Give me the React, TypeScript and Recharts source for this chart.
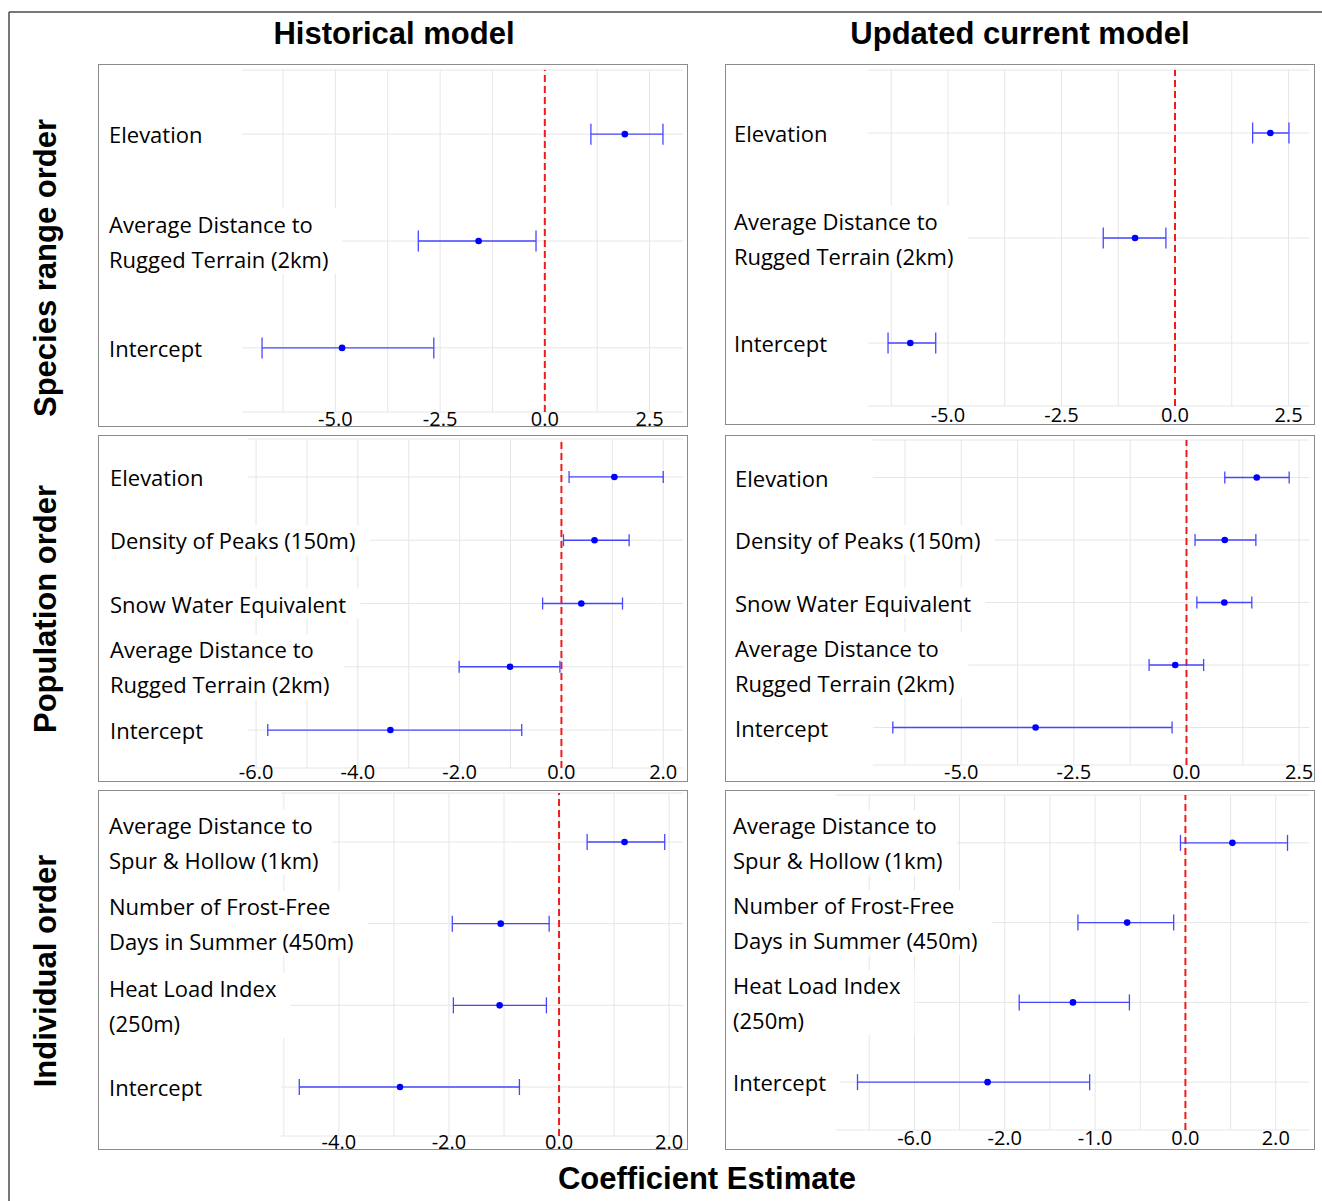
import React from 'react';
import { ScatterChart, Scatter, XAxis, YAxis, CartesianGrid, ErrorBar, ReferenceLine } from 'recharts';

// ---------- Data ----------
// Panel A: Historical model / Species range order
const aTerms = ['Elevation', 'Average Distance to\nRugged Terrain (2km)', 'Intercept'];
const aEst = [1.91, -1.58, -4.84];
const aLow = [1.10, -3.02, -6.75];
const aHigh = [2.82, -0.21, -2.65];
const aTicks = [-5, -2.5, 0, 2.5];
const aTickLabels = ['-5.0', '-2.5', '0.0', '2.5'];
const aMinor = [-6.25, -3.75, -1.25, 1.25];

// Panel B: Updated current model / Species range order
const bTerms = ['Elevation', 'Average Distance to\nRugged Terrain (2km)', 'Intercept'];
const bEst = [2.10, -0.88, -5.83];
const bLow = [1.71, -1.58, -6.32];
const bHigh = [2.51, -0.20, -5.27];
const bTicks = [-5, -2.5, 0, 2.5];
const bTickLabels = ['-5.0', '-2.5', '0.0', '2.5'];
const bMinor = [-6.25, -3.75, -1.25, 1.25];

// Panel C: Historical model / Population order
const cTerms = ['Elevation', 'Density of Peaks (150m)', 'Snow Water Equivalent', 'Average Distance to\nRugged Terrain (2km)', 'Intercept'];
const cEst = [1.04, 0.65, 0.39, -1.01, -3.36];
const cLow = [0.15, 0.04, -0.37, -2.01, -5.77];
const cHigh = [2.00, 1.33, 1.20, -0.03, -0.78];
const cTicks = [-6, -4, -2, 0, 2];
const cTickLabels = ['-6.0', '-4.0', '-2.0', '0.0', '2.0'];
const cMinor = [-5, -3, -1, 1];

// Panel D: Updated current model / Population order
const dTerms = ['Elevation', 'Density of Peaks (150m)', 'Snow Water Equivalent', 'Average Distance to\nRugged Terrain (2km)', 'Intercept'];
const dEst = [1.56, 0.85, 0.84, -0.25, -3.35];
const dLow = [0.85, 0.19, 0.23, -0.83, -6.52];
const dHigh = [2.28, 1.54, 1.45, 0.38, -0.32];
const dTicks = [-5, -2.5, 0, 2.5];
const dTickLabels = ['-5.0', '-2.5', '0.0', '2.5'];
const dMinor = [-6.25, -3.75, -1.25, 1.25];

// Panel E: Historical model / Individual order
const eTerms = ['Average Distance to\nSpur & Hollow (1km)', 'Number of Frost-Free\nDays in Summer (450m)', 'Heat Load Index\n(250m)', 'Intercept'];
const eEst = [1.19, -1.06, -1.08, -2.89];
const eLow = [0.51, -1.94, -1.92, -4.72];
const eHigh = [1.92, -0.18, -0.23, -0.72];
const eTicks = [-4, -2, 0, 2];
const eTickLabels = ['-4.0', '-2.0', '0.0', '2.0'];
const eMinor = [-5, -3, -1, 1];

// Panel F: Updated current model / Individual order
const fTerms = ['Average Distance to\nSpur & Hollow (1km)', 'Number of Frost-Free\nDays in Summer (450m)', 'Heat Load Index\n(250m)', 'Intercept'];
const fEst = [1.04, -1.29, -2.49, -4.38];
const fLow = [-0.11, -2.38, -3.68, -7.26];
const fHigh = [2.26, -0.26, -1.24, -2.12];
const fTicks = [-6, -4, -2, 0, 2];
const fTickLabels = ['-6.0', '-2.0', '-1.0', '0.0', '2.0'];
const fMinor = [-7, -5, -3, -1, 1];

const colTitles = ['Historical model', 'Updated current model'];
const rowTitles = ['Species range order', 'Population order', 'Individual order'];
const xTitle = 'Coefficient Estimate';

// ---------- Styling / layout ----------
const LABEL_FONT = "'Open Sans', sans-serif";
const TITLE_FONT = "'Liberation Sans', Arial, sans-serif";
const LABEL_SIZE = 22;
const TICK_SIZE = 20;
const LINE_GAP = 35;
const EXTRA = 14; // svg extends below the panel frame so tick text is not clipped

let measureCtx: CanvasRenderingContext2D | null = null;
function textWidth(s: string, size: number) {
  if (!measureCtx && typeof document !== 'undefined') {
    measureCtx = document.createElement('canvas').getContext('2d');
  }
  if (!measureCtx) return s.length * size * 0.52;
  measureCtx.font = `${size}px 'Open Sans'`;
  return measureCtx.measureText(s).width;
}

type Layout = {
  left: number; top: number; width: number; height: number;
  plotLeft: number; plotRight: number; plotTop: number; plotBottom: number;
  cap: number; labelX: number; tickBase: number;
};

type PanelData = {
  terms: string[]; est: number[]; low: number[]; high: number[];
  ticks: number[]; tickLabels: string[]; minor: number[];
};

const panels: { data: PanelData; layout: Layout }[] = [
  {
    data: { terms: aTerms, est: aEst, low: aLow, high: aHigh, ticks: aTicks, tickLabels: aTickLabels, minor: aMinor },
    layout: { left: 98, top: 64, width: 590, height: 363, plotLeft: 242, plotRight: 683, plotTop: 70, plotBottom: 412, cap: 10.5, labelX: 109, tickBase: 426 },
  },
  {
    data: { terms: bTerms, est: bEst, low: bLow, high: bHigh, ticks: bTicks, tickLabels: bTickLabels, minor: bMinor },
    layout: { left: 725, top: 64, width: 590, height: 361, plotLeft: 868, plotRight: 1309, plotTop: 70, plotBottom: 406, cap: 10.5, labelX: 734, tickBase: 422 },
  },
  {
    data: { terms: cTerms, est: cEst, low: cLow, high: cHigh, ticks: cTicks, tickLabels: cTickLabels, minor: cMinor },
    layout: { left: 98, top: 435, width: 590, height: 347, plotLeft: 248, plotRight: 683, plotTop: 439, plotBottom: 768, cap: 6, labelX: 110, tickBase: 779 },
  },
  {
    data: { terms: dTerms, est: dEst, low: dLow, high: dHigh, ticks: dTicks, tickLabels: dTickLabels, minor: dMinor },
    layout: { left: 725, top: 435, width: 590, height: 347, plotLeft: 873, plotRight: 1309, plotTop: 440, plotBottom: 765, cap: 6, labelX: 735, tickBase: 779 },
  },
  {
    data: { terms: eTerms, est: eEst, low: eLow, high: eHigh, ticks: eTicks, tickLabels: eTickLabels, minor: eMinor },
    layout: { left: 98, top: 790, width: 590, height: 360, plotLeft: 281, plotRight: 683, plotTop: 793, plotBottom: 1136, cap: 8, labelX: 109, tickBase: 1149 },
  },
  {
    data: { terms: fTerms, est: fEst, low: fLow, high: fHigh, ticks: fTicks, tickLabels: fTickLabels, minor: fMinor },
    layout: { left: 725, top: 790, width: 590, height: 360, plotLeft: 836, plotRight: 1309, plotTop: 795, plotBottom: 1130, cap: 8, labelX: 733, tickBase: 1145 },
  },
];

function YLabel(props: any) {
  const { y, payload, terms, labelX } = props;
  const idx = Math.round(payload.value) - 1;
  const text: string = terms[idx] ?? '';
  const lines = text.split('\n');
  const firstY = y - ((lines.length - 1) * LINE_GAP) / 2;
  const w = Math.max(...lines.map((l) => textWidth(l, LABEL_SIZE)));
  return (
    <g>
      <rect
        x={labelX - 4}
        y={firstY - 15}
        width={w + 18}
        height={(lines.length - 1) * LINE_GAP + 30}
        fill="#ffffff"
      />
      {lines.map((l, i) => (
        <text
          key={i}
          x={labelX}
          y={firstY + i * LINE_GAP}
          dominantBaseline="central"
          textAnchor="start"
          fontFamily={LABEL_FONT}
          fontSize={LABEL_SIZE}
          fill="#000"
        >
          {l}
        </text>
      ))}
    </g>
  );
}

function XTick(props: any) {
  const { x, payload, majors, labels, tickBase } = props;
  const i = majors.indexOf(payload.value);
  if (i < 0) return <g />;
  return (
    <text
      x={x}
      y={tickBase}
      textAnchor="middle"
      fontFamily={LABEL_FONT}
      fontSize={TICK_SIZE}
      fill="#000"
    >
      {labels[i]}
    </text>
  );
}

function Dot(props: any) {
  const { cx, cy } = props;
  if (cx == null || cy == null) return <g />;
  return <circle cx={cx} cy={cy} r={3.3} fill="#0000ff" />;
}

function Panel({ data, layout }: { data: PanelData; layout: Layout }) {
  const rows = data.terms.map((t, i) => ({
    y: i + 1,
    est: data.est[i],
    err: [data.est[i] - data.low[i], data.high[i] - data.est[i]],
  }));
  const lo = Math.min(...data.low);
  const hi = Math.max(...data.high);
  const pad = (hi - lo) * 0.05;
  const domain: [number, number] = [lo - pad, hi + pad];
  const n = data.terms.length;
  const allTicks = [...data.ticks, ...data.minor].sort((a, b) => a - b);
  const yTicks = data.terms.map((_, i) => i + 1);
  const L = layout;
  const svgH = L.height + EXTRA;
  const margin = {
    top: L.plotTop - L.top,
    right: L.left + L.width - L.plotRight,
    bottom: 0,
    left: 0,
  };
  const vGen = (p: any) => {
    const sc = p && p.xAxis && p.xAxis.scale;
    if (typeof sc === 'function') return allTicks.map((t) => sc(t));
    if (sc && typeof sc.map === 'function') return allTicks.map((t) => sc.map(t));
    return [];
  };
  return (
    <div style={{ position: 'absolute', left: L.left, top: L.top, width: L.width, height: L.height }}>
      <ScatterChart width={L.width} height={svgH} margin={margin} style={{ overflow: 'visible' }}>
        <CartesianGrid stroke="#e6e6e6" strokeWidth={1} verticalCoordinatesGenerator={vGen} />
        <XAxis
          type="number"
          dataKey="est"
          domain={domain}
          allowDataOverflow
          ticks={allTicks}
          interval={0}
          axisLine={false}
          tickLine={false}
          height={L.top + svgH - L.plotBottom}
          tick={(p: any) => (
            <XTick {...p} majors={data.ticks} labels={data.tickLabels} tickBase={L.tickBase - L.top} />
          )}
        />
        <YAxis
          type="number"
          dataKey="y"
          domain={[0.4, n + 0.6]}
          allowDataOverflow
          reversed
          ticks={yTicks}
          interval={0}
          axisLine={false}
          tickLine={false}
          width={L.plotLeft - L.left}
          tick={(p: any) => <YLabel {...p} terms={data.terms} labelX={L.labelX - L.left} />}
        />
        <ReferenceLine x={0} stroke="#ee1c1c" strokeWidth={2} strokeDasharray="7 4" />
        <Scatter data={rows} isAnimationActive={false} shape={<Dot />}>
          <ErrorBar
            dataKey="err"
            direction="x"
            width={L.cap}
            stroke="#4646ff"
            strokeWidth={1.3}
            isAnimationActive={false}
          />
        </Scatter>
      </ScatterChart>
      <div
        style={{
          position: 'absolute',
          left: 0,
          top: 0,
          width: L.width,
          height: L.height,
          boxSizing: 'border-box',
          border: '1.5px solid #8c8c8c',
          pointerEvents: 'none',
        }}
      />
    </div>
  );
}

export default function App() {
  return (
    <div style={{ position: 'absolute', left: 0, top: 0, width: 1322, height: 1201, background: '#ffffff', overflow: 'hidden' }}>
      <svg width={1322} height={1201} style={{ position: 'absolute', left: 0, top: 0 }}>
        <line x1={9} y1={12} x2={1322} y2={12} stroke="#4a4a4a" strokeWidth={1.5} />
        <line x1={9} y1={12} x2={9} y2={1201} stroke="#4a4a4a" strokeWidth={1.5} />
        <text x={394} y={33} textAnchor="middle" dominantBaseline="central" fontFamily={TITLE_FONT} fontWeight="bold" fontSize={31} fill="#000">
          {colTitles[0]}
        </text>
        <text x={1020} y={33} textAnchor="middle" dominantBaseline="central" fontFamily={TITLE_FONT} fontWeight="bold" fontSize={31} fill="#000">
          {colTitles[1]}
        </text>
        {[268, 609, 971].map((cy, i) => (
          <text
            key={i}
            x={45}
            y={cy}
            transform={`rotate(-90 45 ${cy})`}
            textAnchor="middle"
            dominantBaseline="central"
            fontFamily={TITLE_FONT}
            fontWeight="bold"
            fontSize={31}
            fill="#000"
          >
            {rowTitles[i]}
          </text>
        ))}
        <text x={707} y={1178} textAnchor="middle" dominantBaseline="central" fontFamily={TITLE_FONT} fontWeight="bold" fontSize={31} fill="#000">
          {xTitle}
        </text>
      </svg>
      {panels.map((p, i) => (
        <Panel key={i} data={p.data} layout={p.layout} />
      ))}
    </div>
  );
}
